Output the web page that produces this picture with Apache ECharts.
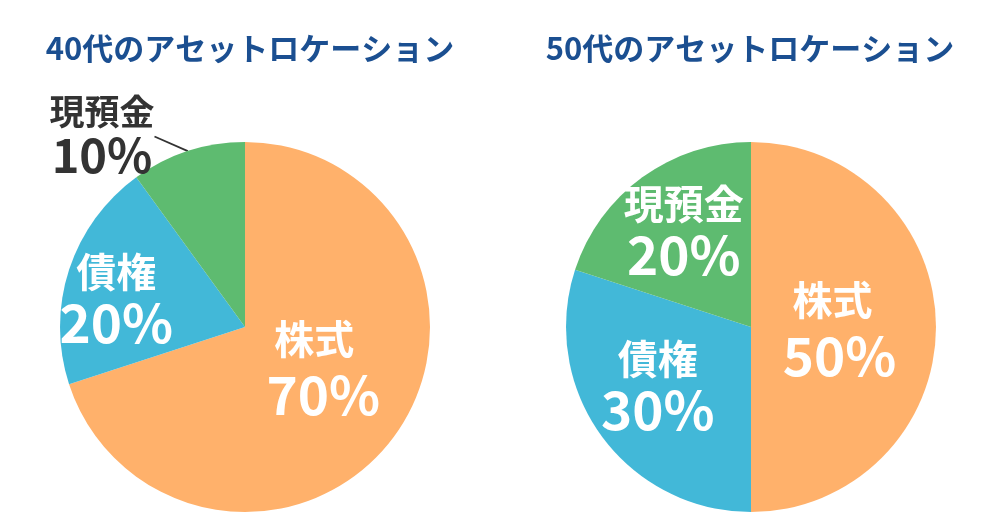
<!DOCTYPE html>
<html>
<head>
<meta charset="utf-8">
<script src="https://cdn.jsdelivr.net/npm/echarts@6/dist/echarts.min.js"></script>
<style>
html,body{margin:0;padding:0;background:#fff;}
#c{width:1000px;height:523px;}
</style>
</head>
<body>
<div id="c"></div>
<script>
const categories = ['株式', '債権', '現預金'];
const values40 = [70, 20, 10];
const values50 = [50, 30, 20];
const titles = ['40代のアセットロケーション', '50代のアセットロケーション'];
const colors = ['#FFB16B', '#42B8D8', '#5EBB70'];

const FONT = '"Noto Sans CJK JP", "Noto Sans", sans-serif';

const chart = echarts.init(document.getElementById('c'), null, {renderer: 'canvas'});

function richStyles(nsPad) {
  return {
    n: {fontSize: 40, fontWeight: 'bold', color: '#fff', lineHeight: 46, fontFamily: FONT},
    ns: {fontSize: 40, fontWeight: 'bold', color: '#fff', lineHeight: 56, fontFamily: FONT, padding: [0, nsPad, 0, 0]},
    p: {fontSize: 53, fontWeight: 'bold', color: '#fff', lineHeight: 56, fontFamily: FONT},
    nd: {fontSize: 35, fontWeight: 'bold', color: '#333', lineHeight: 40, fontFamily: FONT},
    pd: {fontSize: 47, fontWeight: 'bold', color: '#333', lineHeight: 46, fontFamily: FONT}
  };
}

const offsets40 = [[1, -16], [-38, 2], null];
const offsets50 = [[-7, 1], [-16, 4], [-11, -18]];

function buildData(values, offsets, outsideIdx) {
  return categories.map((name, i) => {
    const item = {name: name, value: values[i], itemStyle: {color: colors[i]}};
    if (i === outsideIdx) {
      item.label = {position: 'outside', formatter: '{nd|{b}}\n{pd|{c}%}'};
      item.labelLine = {show: true, length: 12, length2: 0, lineStyle: {color: '#333', width: 1.8}};
    } else {
      item.label = {position: 'inside', offset: offsets[i],
        formatter: (i === 0 ? '{ns|{b}}' : '{n|{b}}') + '\n{p|{c}%}'};
      item.labelLine = {show: false};
    }
    return item;
  });
}

const option = {
  backgroundColor: '#fff',
  animation: false,
  title: [
    {text: titles[0], left: 245, top: 28, textAlign: 'center',
     textStyle: {fontSize: 31, fontWeight: 'bold', color: '#1B4F91', fontFamily: FONT}},
    {text: titles[1], left: 745, top: 28, textAlign: 'center',
     textStyle: {fontSize: 31, fontWeight: 'bold', color: '#1B4F91', fontFamily: FONT}}
  ],
  series: [
    {
      type: 'pie', center: [245, 327], radius: 185, startAngle: 90, clockwise: true,
      avoidLabelOverlap: false,
      label: {show: true, rich: richStyles(18)},
      labelLayout: function (p) {
        if (p.dataIndex === 2) {
          return {x: 102, y: 135, align: 'center', verticalAlign: 'middle'};
        }
      },
      data: buildData(values40, offsets40, 2)
    },
    {
      type: 'pie', center: [751, 327], radius: 185, startAngle: 90, clockwise: true,
      avoidLabelOverlap: false,
      label: {show: true, rich: richStyles(14)},
      data: buildData(values50, offsets50, -1)
    }
  ]
};
chart.setOption(option);
</script>
</body>
</html>
